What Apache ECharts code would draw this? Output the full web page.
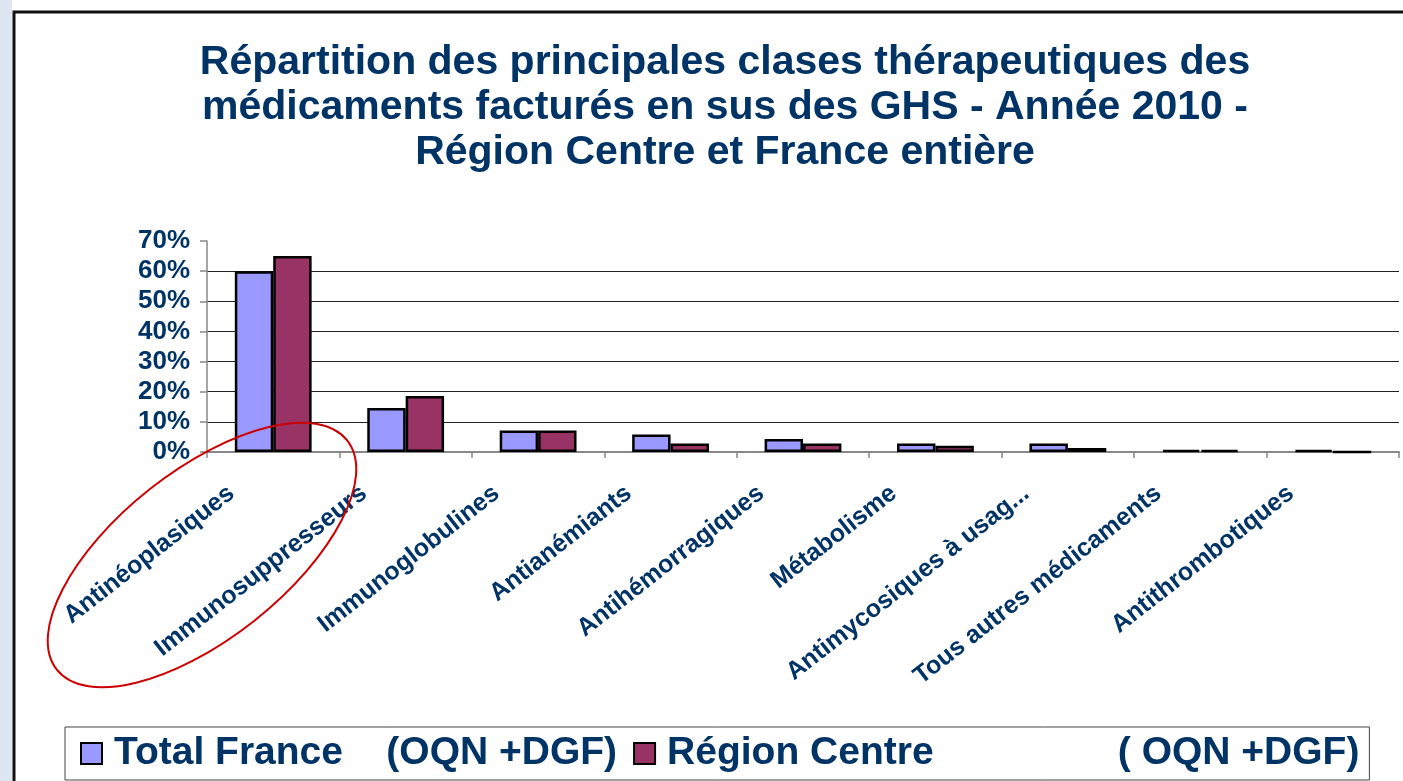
<!DOCTYPE html>
<html><head><meta charset="utf-8">
<script src="https://cdn.jsdelivr.net/npm/echarts@6/dist/echarts.min.js"></script>
<style>html,body{margin:0;padding:0;background:#fff}#c{width:1403px;height:781px}</style>
</head><body><div id="c"></div>
<script>
const categories = ['Antinéoplasiques','Immunosuppresseurs','Immunoglobulines','Antianémiants','Antihémorragiques','Métabolisme','Antimycosiques à usag...','Tous autres médicaments','Antithrombotiques'];
const franceValues = [60, 14.6, 7.1, 5.8, 4.3, 2.8, 2.8, 0.7, 0.7];
const centreValues = [65, 18.6, 7.1, 2.8, 2.8, 2.1, 1.3, 0.7, 0];
const yMin = 0, yMax = 70, yStep = 10;
const seriesNames = ['Total France    (OQN +DGF)', 'Région Centre' + ' '.repeat(17) + '( OQN +DGF)'];
const titleText = 'Répartition des principales clases thérapeutiques des\nmédicaments facturés en sus des GHS - Année 2010 -\nRégion Centre et France entière';

const FONT = "'Liberation Sans', Arial, sans-serif";
const NAVY = '#003366';
const chart = echarts.init(document.getElementById('c'), null, {renderer: 'canvas'});
const gridColors = [];
for (let v = yMin; v <= yMax; v += yStep) gridColors.push(v === yMax ? 'rgba(0,0,0,0)' : '#222');

chart.setOption({
  backgroundColor: '#fff',
  animation: false,
  title: {
    text: titleText,
    left: 720,
    top: 35,
    textAlign: 'center',
    textStyle: {fontFamily: FONT, fontSize: 41, fontWeight: 'bold', color: NAVY, lineHeight: 45}
  },
  legend: {
    left: 65, top: 727,
    itemWidth: 21, itemHeight: 21, itemGap: 16,
    padding: [7, 10, 7, 15],
    borderColor: '#444', borderWidth: 1, backgroundColor: '#fff',
    icon: 'rect',
    itemStyle: {borderColor: '#000', borderWidth: 2},
    textStyle: {fontFamily: FONT, fontSize: 39, fontWeight: 'bold', color: NAVY, padding: [0, 0, 0, 7]}
  },
  grid: {left: 207, right: 4, top: 241, bottom: 329, containLabel: false},
  xAxis: {
    type: 'category',
    data: categories,
    axisLine: {lineStyle: {color: '#888', width: 2}},
    axisTick: {show: true, length: 6, lineStyle: {color: '#888', width: 1.5}},
    axisLabel: {rotate: 38, interval: 0, margin: 6, padding: [0, 53, 18, 0],
      fontFamily: FONT, fontSize: 25, fontWeight: 'bold', color: NAVY}
  },
  yAxis: {
    type: 'value', min: yMin, max: yMax, interval: yStep,
    axisLine: {show: true, lineStyle: {color: '#888', width: 1.5}},
    axisTick: {show: true, length: 7, lineStyle: {color: '#888', width: 1.5}},
    splitLine: {show: true, lineStyle: {color: gridColors, width: 1}},
    axisLabel: {formatter: '{value}%', margin: 17, fontFamily: FONT, fontSize: 26, fontWeight: 'bold', color: NAVY}
  },
  series: [
    {name: seriesNames[0], type: 'bar', data: franceValues, barGap: '0%', barCategoryGap: '42%',
     itemStyle: {color: '#9999FF', borderColor: '#000', borderWidth: 2.5}},
    {name: seriesNames[1], type: 'bar', data: centreValues, barGap: '0%', barCategoryGap: '42%',
     itemStyle: {color: '#993366', borderColor: '#000', borderWidth: 2.5}}
  ],
  graphic: [
    {type: 'rect', left: 0, top: 0, shape: {x: 0, y: 0, width: 12, height: 781}, style: {fill: '#dde6f1'}, silent: true},
    {type: 'rect', x: 14, y: 12, shape: {x: 0, y: 0, width: 1420, height: 800}, style: {fill: 'none', stroke: '#111', lineWidth: 3}, silent: true},
    {type: 'ellipse', x: 202, y: 555, rotation: 38.3 * Math.PI / 180, shape: {cx: 0, cy: 0, rx: 185, ry: 84},
     style: {fill: 'none', stroke: '#cc0000', lineWidth: 2}, silent: true, z: 100}
  ]
});
</script></body></html>
